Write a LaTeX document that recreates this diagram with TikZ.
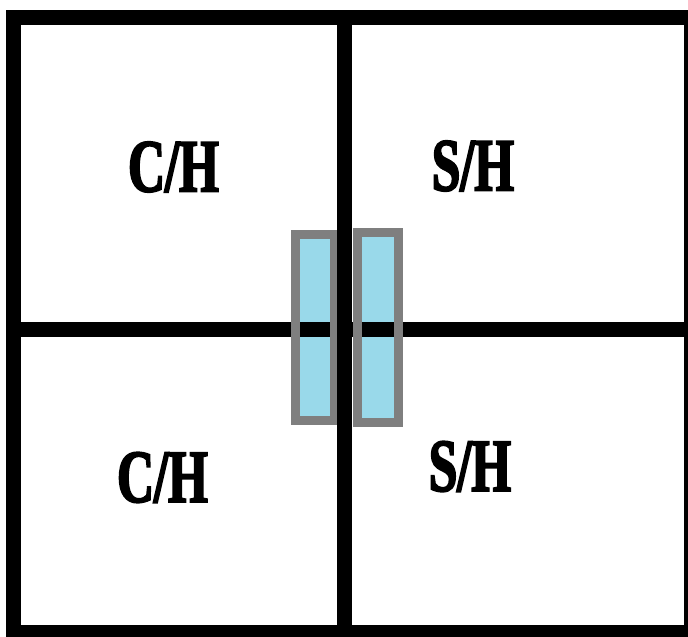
\documentclass[tikz,border=0pt]{standalone}
\usepackage{fontspec}
\newfontfamily\hfont[FakeStretch=0.68,FakeBold=2.5]{Liberation Serif}
\definecolor{capblue}{RGB}{153,217,234}
\definecolor{capgray}{RGB}{127,127,127}
\tikzset{
  wall/.style={line width=15pt, black},
  capfill/.style={fill=capblue},
  capedge/.style={draw=capgray, line width=9pt},
  lbl/.style={inner sep=0pt, font=\hfont\bfseries\fontsize{75}{75}\selectfont}
}
\begin{document}
\begin{tikzpicture}[x=1pt,y=-1pt]
\useasboundingbox (0,0) rectangle (688,637);
\clip (0,0) rectangle (688,637);
% capacitor fills
\fill[capfill] (295.5,234.5) rectangle (334.5,420.5);
\fill[capfill] (357.5,232.5) rectangle (398.5,422.5);
% horizontal wall
\draw[wall] (13.5,329.5) -- (691.5,329.5);
% capacitor borders
\draw[capedge] (295.5,234.5) rectangle (334.5,420.5);
\draw[capedge] (357.5,232.5) rectangle (398.5,422.5);
% vertical wall
\draw[wall] (344,17) -- (344,632.5);
% outer frame
\draw[wall] (13.5,17) rectangle (691.5,632.5);
% labels
\node[lbl] (tl) at (173.5,167) {C/H};
\node[lbl] (tr) at (473,166) {S/H};
\node[lbl] (bl) at (162.5,477.5) {C/H};
\node[lbl] (br) at (470,466.5) {S/H};
\end{tikzpicture}
\end{document}
